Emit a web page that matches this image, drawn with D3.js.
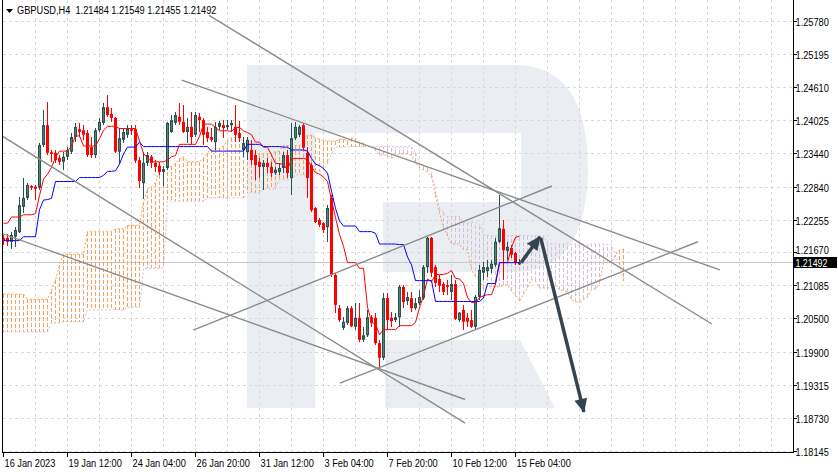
<!DOCTYPE html>
<html><head><meta charset="utf-8">
<script src="https://cdn.jsdelivr.net/npm/d3@7/dist/d3.min.js"></script>
<style>
html,body{margin:0;padding:0;background:#fff;overflow:hidden}
svg text{font-family:"Liberation Sans",Arial,sans-serif;font-size:11px;fill:#000}
</style></head><body>
<svg id="chart" width="838" height="474"></svg>
<script>
const titleText = "GBPUSD,H4  1.21484 1.21549 1.21455 1.21492";
const opens = [1.2193,1.2193,1.2186,1.2195,1.2203,1.2248,1.2264,1.2285,1.2284,1.2282,
1.2358,1.2393,1.2345,1.2344,1.2335,1.2328,1.2337,1.2346,1.2372,1.2386,
1.2384,1.2379,1.2354,1.2340,1.2384,1.2397,1.2425,1.2413,1.2406,1.2346,
1.2367,1.2376,1.2386,1.2386,1.2331,1.2290,1.2326,1.2337,1.2326,1.2321,
1.2310,1.2317,1.2381,1.2397,1.2408,1.2399,1.2381,1.2390,1.2376,1.2408,
1.2402,1.2381,1.2372,1.2363,1.2390,1.2393,1.2390,1.2393,1.2390,1.2379,
1.2349,1.2345,1.2349,1.2340,1.2328,1.2319,1.2326,1.2319,1.2308,1.2310,
1.2317,1.2340,1.2299,1.2370,1.2376,1.2393,1.2344,1.2322,1.2246,1.2225,
1.2219,1.2212,1.2264,1.2127,1.2068,1.2033,1.2042,1.2068,1.2035,1.2051,
1.2012,1.2020,1.2052,1.2051,1.2006,1.1980,1.2086,1.2051,1.2047,1.2052,
1.2106,1.2081,1.2086,1.2068,1.2077,1.2086,1.2141,1.2193,1.2141,1.2120,
1.2111,1.2109,1.2097,1.2111,1.2047,1.2065,1.2051,1.2047,1.2035,1.2088,
1.2131,1.2134,1.2138,1.2145,1.2186,1.2209,1.2170,1.2175,1.2166,1.21484];
const highs = [1.2198,1.2200,1.2203,1.2213,1.2265,1.2299,1.2291,1.2287,1.2287,1.2361,
1.2420,1.2434,1.2349,1.2349,1.2340,1.2346,1.2354,1.2379,1.2397,1.2397,
1.2393,1.2384,1.2372,1.2388,1.2406,1.2432,1.2447,1.2423,1.2408,1.2388,
1.2388,1.2393,1.2393,1.2393,1.2337,1.2346,1.2346,1.2340,1.2331,1.2328,
1.2321,1.2399,1.2411,1.2416,1.2432,1.2429,1.2406,1.2416,1.2416,1.2415,
1.2406,1.2390,1.2388,1.2399,1.2401,1.2402,1.2402,1.2402,1.2429,1.2401,
1.2372,1.2372,1.2367,1.2349,1.2335,1.2331,1.2335,1.2328,1.2319,1.2326,
1.2345,1.2349,1.2397,1.2399,1.2393,1.2397,1.2354,1.2326,1.2248,1.2228,
1.2221,1.2251,1.2269,1.2131,1.2074,1.2052,1.2072,1.2072,1.2077,1.2077,
1.2035,1.2065,1.2056,1.2060,1.2012,1.2095,1.2095,1.2061,1.2060,1.2109,
1.2109,1.2097,1.2097,1.2086,1.2100,1.2145,1.2195,1.2195,1.2145,1.2127,
1.2115,1.2118,1.2127,1.2118,1.2061,1.2074,1.2060,1.2065,1.2092,1.2145,
1.2150,1.2154,1.2154,1.2193,1.2269,1.2225,1.2186,1.2180,1.2168,1.21549];
const lows = [1.2180,1.2179,1.2174,1.2177,1.2201,1.2237,1.2260,1.2278,1.2260,1.2278,
1.2354,1.2340,1.2328,1.2326,1.2323,1.2314,1.2331,1.2342,1.2363,1.2372,
1.2367,1.2337,1.2335,1.2335,1.2381,1.2393,1.2408,1.2399,1.2344,1.2326,
1.2361,1.2370,1.2376,1.2326,1.2282,1.2262,1.2321,1.2317,1.2310,1.2305,
1.2285,1.2313,1.2379,1.2393,1.2393,1.2379,1.2361,1.2358,1.2372,1.2381,
1.2358,1.2363,1.2363,1.2349,1.2384,1.2370,1.2384,1.2381,1.2363,1.2363,
1.2337,1.2331,1.2322,1.2296,1.2299,1.2278,1.2308,1.2301,1.2305,1.2305,
1.2308,1.2299,1.2269,1.2367,1.2372,1.2349,1.2264,1.2239,1.2219,1.2212,
1.2202,1.2186,1.2123,1.2060,1.2044,1.2029,1.2038,1.2035,1.2029,1.2008,
1.2008,1.2017,1.2035,1.2003,1.1964,1.1976,1.2029,1.2035,1.2044,1.2035,
1.2068,1.2074,1.2061,1.2065,1.2074,1.2083,1.2131,1.2123,1.2106,1.2097,
1.2092,1.2092,1.2083,1.2047,1.2044,1.2029,1.2035,1.2033,1.2029,1.2083,
1.2118,1.2123,1.2131,1.2141,1.2184,1.2118,1.2154,1.2157,1.2145,1.21455];
const closes = [1.2187,1.2186,1.2198,1.2207,1.2251,1.2264,1.2287,1.2282,1.2280,1.2358,
1.2393,1.2344,1.2342,1.2331,1.2328,1.2337,1.2349,1.2372,1.2390,1.2381,
1.2376,1.2340,1.2340,1.2384,1.2399,1.2425,1.2411,1.2406,1.2346,1.2370,
1.2381,1.2388,1.2383,1.2330,1.2294,1.2326,1.2340,1.2326,1.2319,1.2310,
1.2315,1.2397,1.2402,1.2411,1.2399,1.2381,1.2390,1.2372,1.2411,1.2402,
1.2376,1.2370,1.2367,1.2390,1.2397,1.2388,1.2393,1.2397,1.2376,1.2370,
1.2361,1.2367,1.2331,1.2322,1.2319,1.2326,1.2319,1.2308,1.2314,1.2317,
1.2340,1.2308,1.2370,1.2390,1.2390,1.2353,1.2299,1.2242,1.2221,1.2216,
1.2207,1.2246,1.2127,1.2074,1.2047,1.2044,1.2068,1.2036,1.2051,1.2012,
1.2020,1.2052,1.2042,1.2006,1.1980,1.2086,1.2047,1.2045,1.2052,1.2106,
1.2079,1.2088,1.2068,1.2077,1.2088,1.2141,1.2193,1.2131,1.2113,1.2108,
1.2097,1.2106,1.2111,1.2049,1.2060,1.2044,1.2044,1.2035,1.2088,1.2136,
1.2141,1.2141,1.2147,1.2186,1.2210,1.2171,1.2177,1.2163,1.2148,1.21492];
const tenkan = [1.2219,1.2219,1.2230,1.2230,1.2230,1.2234,1.2234,1.2234,1.2236,1.2268,
1.2297,1.2306,1.2318,1.2336,1.2347,1.2347,1.2347,1.2356,1.2374,1.2374,
1.2356,1.2356,1.2356,1.2356,1.2369,1.2384,1.2391,1.2391,1.2391,1.2387,
1.2387,1.2387,1.2387,1.2387,1.2365,1.2343,1.2335,1.2328,1.2328,1.2328,
1.2328,1.2331,1.2337,1.2339,1.2359,1.2359,1.2359,1.2359,1.2359,1.2373,
1.2395,1.2395,1.2395,1.2389,1.2383,1.2383,1.2383,1.2382,1.2389,1.2389,
1.2383,1.2380,1.2376,1.2363,1.2363,1.2354,1.2354,1.2340,1.2325,1.2325,
1.2323,1.2314,1.2333,1.2334,1.2334,1.2334,1.2332,1.2319,1.2309,1.2306,
1.2301,1.2293,1.2260,1.2229,1.2199,1.2178,1.2149,1.2149,1.2149,1.2139,
1.2139,1.2070,1.2043,1.2040,1.2021,1.2030,1.2030,1.2030,1.2030,1.2037,
1.2037,1.2037,1.2037,1.2043,1.2069,1.2090,1.2120,1.2115,1.2128,1.2128,
1.2128,1.2130,1.2135,1.2121,1.2120,1.2112,1.2087,1.2078,1.2078,1.2087,
1.2090,1.2092,1.2092,1.2111,1.2149,1.2149,1.2149,1.2176,1.2194,1.2196];
const kijun = [1.2188,1.2188,1.2188,1.2188,1.2188,1.2195,1.2195,1.2195,1.2195,1.2243,
1.2260,1.2261,1.2263,1.2293,1.2293,1.2293,1.2293,1.2293,1.2293,1.2300,
1.2300,1.2300,1.2300,1.2300,1.2300,1.2304,1.2311,1.2311,1.2312,1.2324,
1.2342,1.2354,1.2354,1.2354,1.2363,1.2355,1.2355,1.2355,1.2355,1.2355,
1.2355,1.2355,1.2355,1.2355,1.2355,1.2355,1.2355,1.2355,1.2355,1.2355,
1.2355,1.2355,1.2347,1.2347,1.2347,1.2347,1.2347,1.2347,1.2347,1.2347,
1.2347,1.2359,1.2359,1.2359,1.2359,1.2355,1.2355,1.2355,1.2355,1.2355,
1.2354,1.2354,1.2349,1.2349,1.2349,1.2349,1.2347,1.2334,1.2324,1.2321,
1.2316,1.2308,1.2276,1.2245,1.2223,1.2214,1.2214,1.2214,1.2214,1.2204,
1.2204,1.2204,1.2204,1.2201,1.2182,1.2182,1.2182,1.2182,1.2182,1.2181,
1.2181,1.2159,1.2145,1.2117,1.2117,1.2117,1.2117,1.2117,1.2080,1.2080,
1.2080,1.2080,1.2080,1.2080,1.2080,1.2080,1.2080,1.2080,1.2080,1.2080,
1.2086,1.2112,1.2112,1.2112,1.2149,1.2149,1.2149,1.2149,1.2149,1.2149];
const senkouA = [1.2093,1.2093,1.2093,1.2093,1.2093,1.2093,1.2084,1.2084,1.2084,1.2084,
1.2084,1.2084,1.2100,1.2118,1.2145,1.2164,1.2164,1.2164,1.2164,1.2164,
1.2164,1.2204,1.2204,1.2204,1.2204,1.2204,1.2204,1.2204,1.2209,1.2209,
1.2209,1.2215,1.2215,1.2215,1.2216,1.2256,1.2279,1.2284,1.2291,1.2315,
1.2320,1.2320,1.2320,1.2325,1.2334,1.2337,1.2328,1.2328,1.2328,1.2328,
1.2335,1.2344,1.2351,1.2351,1.2352,1.2356,1.2365,1.2371,1.2371,1.2371,
1.2364,1.2349,1.2345,1.2342,1.2342,1.2342,1.2342,1.2343,1.2346,1.2347,
1.2357,1.2357,1.2357,1.2357,1.2357,1.2364,1.2375,1.2375,1.2371,1.2368,
1.2365,1.2365,1.2365,1.2365,1.2368,1.2368,1.2365,1.2370,1.2368,1.2361,
1.2361,1.2355,1.2355,1.2348,1.2340,1.2340,1.2339,1.2334,1.2341,1.2342,
1.2342,1.2342,1.2340,1.2327,1.2317,1.2314,1.2309,1.2301,1.2268,1.2237,
1.2211,1.2196,1.2182,1.2182,1.2182,1.2172,1.2172,1.2137,1.2124,1.2121,
1.2102,1.2106,1.2106,1.2106,1.2106,1.2109,1.2109,1.2098,1.2091,1.2080,
1.2093,1.2104,1.2119,1.2116,1.2104,1.2104,1.2104,1.2105,1.2108,1.2101,
1.2100,1.2096,1.2084,1.2079,1.2079,1.2084,1.2088,1.2102,1.2102,1.2112,
1.2149,1.2149,1.2149,1.2163,1.2172,1.2173];
const senkouB = [1.2026,1.2026,1.2026,1.2026,1.2026,1.2026,1.2026,1.2026,1.2026,1.2026,
1.2026,1.2026,1.2042,1.2042,1.2042,1.2044,1.2044,1.2044,1.2044,1.2044,
1.2044,1.2065,1.2065,1.2065,1.2065,1.2065,1.2065,1.2065,1.2065,1.2065,
1.2065,1.2070,1.2070,1.2070,1.2070,1.2139,1.2139,1.2139,1.2139,1.2139,
1.2139,1.2258,1.2258,1.2258,1.2258,1.2258,1.2258,1.2258,1.2258,1.2258,
1.2258,1.2264,1.2264,1.2264,1.2264,1.2264,1.2264,1.2264,1.2264,1.2264,
1.2264,1.2273,1.2273,1.2273,1.2273,1.2280,1.2280,1.2280,1.2280,1.2296,
1.2296,1.2296,1.2296,1.2305,1.2305,1.2305,1.2305,1.2311,1.2311,1.2311,
1.2312,1.2324,1.2342,1.2354,1.2354,1.2354,1.2355,1.2355,1.2355,1.2355,
1.2355,1.2355,1.2355,1.2355,1.2355,1.2355,1.2355,1.2355,1.2355,1.2355,
1.2355,1.2355,1.2355,1.2343,1.2326,1.2322,1.2317,1.2309,1.2278,1.2246,
1.2238,1.2231,1.2231,1.2231,1.2231,1.2220,1.2220,1.2220,1.2220,1.2218,
1.2198,1.2198,1.2197,1.2197,1.2197,1.2197,1.2197,1.2197,1.2197,1.2197,
1.2197,1.2197,1.2197,1.2197,1.2197,1.2197,1.2183,1.2182,1.2182,1.2182,
1.2182,1.2182,1.2182,1.2182,1.2182,1.2182,1.2182,1.2182,1.2182,1.2182,
1.2182,1.2181,1.2181,1.2159,1.2145,1.2117];
const xTickLabels = ["16 Jan 2023","19 Jan 12:00","24 Jan 04:00","26 Jan 20:00","31 Jan 12:00","3 Feb 04:00","7 Feb 20:00","10 Feb 12:00","15 Feb 04:00"];
const xTickBars = [0,16,32,48,64,80,96,112,128];
const yTickLabels = ["1.25780","1.25195","1.24610","1.24025","1.23440","1.22840","1.22255","1.21670","1.21085","1.20500","1.19900","1.19315","1.18730","1.18145"];
const lastPrice = 1.21492;
// drawn objects: [bar1, price1, bar2, price2]
const trendLines = [[51.4,1.2588,177.1,1.2040],[44.55,1.2473,179.1,1.2136],[-0.9,1.2376,115.4,1.1864],[-0.9,1.2202,115.4,1.1906],[47.4,1.2029,137.1,1.2285],[84.1,1.1935,173.6,1.2186]];
const arrowLines = [[129.4,1.2149,134.1,1.2195],[134.3,1.2193,145.1,1.1884]];

const svg = d3.select("#chart");
const plot = {l:3, r:793, t:0, b:452};
const x = d3.scaleLinear().domain([0,1]).range([3.5,7.5]);
const y = d3.scaleLinear().domain([1.18145,1.25780]).range([451,21]);
const SX = 0.84;
function label(sel, tx, ty, str, fill, size){
  return sel.append("text").attr("transform",`translate(${tx},${ty}) scale(${SX},1)`)
    .attr("xml:space","preserve").style("white-space","pre")
    .style("fill",fill||"#000").style("font-size",(size||11)+"px").text(str);
}

svg.append("rect").attr("width",838).attr("height",474).attr("fill","#fff");
const defs = svg.append("defs");
defs.append("clipPath").attr("id","clip").append("rect").attr("x",plot.l).attr("y",plot.t).attr("width",plot.r-plot.l).attr("height",plot.b-plot.t);
defs.append("marker").attr("id","ah").attr("markerUnits","userSpaceOnUse").attr("markerWidth",16).attr("markerHeight",16)
  .attr("viewBox","-14 -8 16 16").attr("refX",0).attr("refY",0).attr("orient","auto")
  .append("path").attr("d","M-13,-6.5 L1,0 L-13,6.5 Z").attr("fill","#35444f");

const g = svg.append("g").attr("clip-path","url(#clip)");

// watermark logo
g.append("path").attr("fill","#eaeef3")
  .attr("d","M247,65 H515 C562,65 588,98 588,168 C588,238 562,272 515,272 H383 V202 H521 V133 H315 V408 H247 Z M385,340 H520 L555,408 H385 Z");

// grid
const gridBars = d3.range(8, 200, 8);
g.selectAll(".vg").data(gridBars).join("line")
  .attr("x1",d=>x(d)).attr("x2",d=>x(d)).attr("y1",0).attr("y2",plot.b)
  .attr("stroke","#d9d9d9").attr("stroke-dasharray","3,3").attr("shape-rendering","crispEdges");
g.selectAll(".hg").data(yTickLabels).join("line")
  .attr("x1",plot.l).attr("x2",plot.r).attr("y1",d=>Math.round(y(+d))+0.5).attr("y2",d=>Math.round(y(+d))+0.5)
  .attr("stroke","#d9d9d9").attr("stroke-dasharray","3,3").attr("shape-rendering","crispEdges");

// last price line
g.append("line").attr("x1",plot.l).attr("x2",plot.r).attr("y1",Math.floor(y(lastPrice))+0.5).attr("y2",Math.floor(y(lastPrice))+0.5)
  .attr("stroke","#c8c8c8").attr("shape-rendering","crispEdges");

// kumo hatch
const cloudIdx = d3.range(senkouA.length);
g.selectAll(".hatch").data(cloudIdx).join("line")
  .attr("x1",i=>x(i)).attr("x2",i=>x(i))
  .attr("y1",i=>Math.round(y(senkouA[i]))).attr("y2",i=>Math.round(y(senkouB[i])))
  .attr("stroke",i=>senkouA[i]>=senkouB[i]?"#f4a460":"#d8bfd8")
  .attr("stroke-dasharray","4,2").attr("stroke-width",1).attr("shape-rendering","crispEdges");
const lineGen = d3.line().x((d,i)=>x(i)).y(d=>y(d));
g.append("path").datum(senkouA).attr("d",lineGen).attr("fill","none").attr("stroke","#f4a460").attr("stroke-dasharray","2,2");
g.append("path").datum(senkouB).attr("d",lineGen).attr("fill","none").attr("stroke","#d8bfd8").attr("stroke-dasharray","2,2");

// candles
const bars = d3.range(opens.length);
const bull = i => closes[i] >= opens[i];
g.selectAll(".wick").data(bars).join("line")
  .attr("x1",i=>x(i)).attr("x2",i=>x(i)).attr("y1",i=>y(highs[i])).attr("y2",i=>y(lows[i]))
  .attr("stroke",i=>bull(i)?"#2f4f4f":"#ff0000").attr("shape-rendering","crispEdges");
g.selectAll(".body").data(bars).join("rect")
  .attr("x",i=>bull(i)?x(i)-1:x(i)-1.5)
  .attr("width",i=>bull(i)?2:3)
  .attr("y",i=>y(Math.max(opens[i],closes[i]))+(bull(i)?0.5:0))
  .attr("height",i=>Math.max(1,Math.abs(y(opens[i])-y(closes[i]))-(bull(i)?1:0)))
  .attr("fill",i=>bull(i)?"#4a8a6c":"#ff0000")
  .attr("stroke",i=>bull(i)?"#2f4f4f":"none");

// tenkan / kijun
g.append("path").datum(tenkan).attr("d",lineGen).attr("fill","none").attr("stroke","#ff0000").attr("stroke-width",1);
g.append("path").datum(kijun).attr("d",lineGen).attr("fill","none").attr("stroke","#0000ff").attr("stroke-width",1);

// trend lines
g.selectAll(".tl").data(trendLines).join("line")
  .attr("x1",d=>x(d[0])).attr("y1",d=>y(d[1])).attr("x2",d=>x(d[2])).attr("y2",d=>y(d[3]))
  .attr("stroke","#8c8c8c").attr("stroke-width",1.4);

// arrows
g.selectAll(".ar").data(arrowLines).join("line")
  .attr("x1",d=>x(d[0])).attr("y1",d=>y(d[1])).attr("x2",d=>x(d[2])).attr("y2",d=>y(d[3]))
  .attr("stroke","#35444f").attr("stroke-width",3.5).attr("marker-end","url(#ah)");

// frame
svg.append("line").attr("x1",2.5).attr("x2",2.5).attr("y1",0).attr("y2",plot.b+0.5).attr("stroke","#000");
svg.append("line").attr("x1",plot.r+0.5).attr("x2",plot.r+0.5).attr("y1",0).attr("y2",plot.b+0.5).attr("stroke","#000");
svg.append("line").attr("x1",2).attr("x2",plot.r+1).attr("y1",plot.b+0.5).attr("y2",plot.b+0.5).attr("stroke","#000");

// y axis
const ya = svg.append("g");
const ly = Math.floor(y(lastPrice));
yTickLabels.forEach(t=>{
  const yy = Math.round(y(+t))+0.5;
  ya.append("line").attr("x1",plot.r+1).attr("x2",plot.r+4).attr("y1",yy).attr("y2",yy).attr("stroke","#000");
  let by = yy+4;
  if (Math.abs(yy-ly) < 14 && yy < ly) by = ly - 8.5;
  label(ya, plot.r+2.5, by, t);
});
ya.append("rect").attr("x",plot.r+1).attr("y",ly-5).attr("width",43).attr("height",11).attr("fill","#000");
label(ya, plot.r+2.5, ly+4.5, lastPrice.toFixed(5), "#fff", 10.5);

// x axis
const xa = svg.append("g");
xTickBars.forEach((b,k)=>{
  const xx = Math.round(x(b))-0.5;
  xa.append("line").attr("x1",xx).attr("x2",xx).attr("y1",plot.b).attr("y2",plot.b+5).attr("stroke","#000");
  label(xa, xx+1, 467, xTickLabels[k]);
});

// title
svg.append("path").attr("d","M6,9 L13,9 L9.5,13 Z").attr("fill","#000");
label(svg, 17, 14, titleText);
</script>
</body></html>
